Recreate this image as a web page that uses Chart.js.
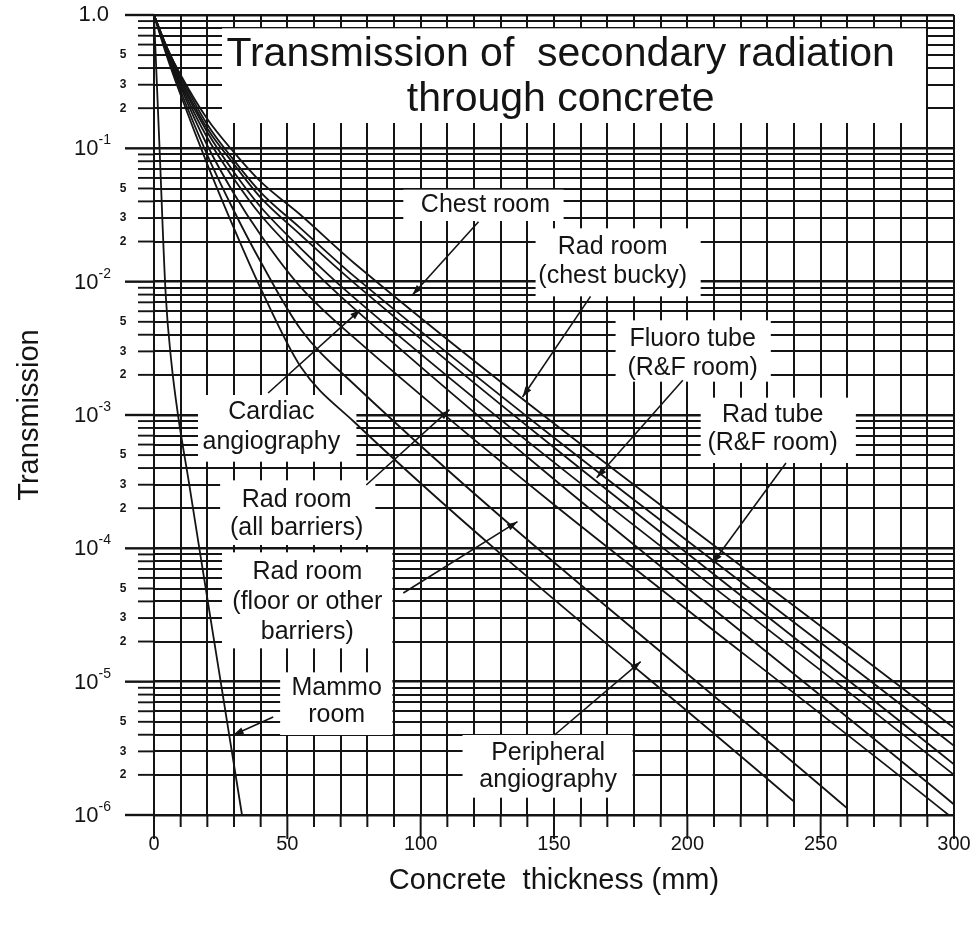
<!DOCTYPE html>
<html>
<head>
<meta charset="utf-8">
<script src="https://cdn.jsdelivr.net/npm/chart.js@4.4.0/dist/chart.umd.min.js"></script>
<style>
  html, body { margin: 0; padding: 0; background: #fff; }
  #wrap { width: 980px; height: 925px; position: relative; }
</style>
</head>
<body>
<div id="wrap"><canvas id="chart"></canvas></div>
<script>
// concrete thickness (mm) and transmission
var chestRoomX  = [0, 5, 10, 20, 30, 40, 55, 75, 300];
var chestRoomT  = [1, 0.562, 0.355, 0.166, 0.0933, 0.0562, 0.0316, 0.0138, 4.5e-6];
var chestBuckyX = [0, 5, 10, 20, 30, 40, 55, 75, 300];
var chestBuckyT = [1, 0.562, 0.347, 0.151, 0.0813, 0.0468, 0.0251, 0.011, 3.3e-6];
var radTubeX    = [0, 5, 10, 20, 30, 40, 55, 75, 300];
var radTubeT    = [1, 0.55, 0.331, 0.141, 0.0759, 0.0427, 0.0224, 0.0098, 2.4e-6];
var fluoroX     = [0, 5, 10, 20, 30, 40, 55, 75, 300];
var fluoroT     = [1, 0.537, 0.316, 0.132, 0.0661, 0.0363, 0.0178, 0.0076, 2.0e-6];
var cardiacX    = [0, 5, 10, 20, 30, 40, 55, 75, 300];
var cardiacT    = [1, 0.525, 0.302, 0.12, 0.0589, 0.0316, 0.0151, 0.0063, 1.2e-6];
var radAllX     = [0, 5, 10, 20, 30, 40, 55, 75, 298];
var radAllT     = [1, 0.513, 0.288, 0.105, 0.0457, 0.0224, 0.0091, 0.0038, 1.0e-6];
var radFloorX   = [0, 5, 10, 20, 30, 40, 55, 75, 260];
var radFloorT   = [1, 0.501, 0.269, 0.0891, 0.0339, 0.0141, 0.0044, 0.0017, 1.12e-6];
var periphX     = [0, 5, 10, 20, 30, 40, 55, 75, 240];
var periphT     = [1, 0.479, 0.251, 0.0759, 0.0251, 0.0089, 0.0023, 0.00089, 1.26e-6];
var mammoX      = [0, 2, 4.4, 6.5, 9, 13, 17, 25, 33];
var mammoT      = [1, 0.11, 0.0079, 0.0025, 1e-3, 3.2e-4, 1e-4, 1e-5, 1e-6];

// axis ticks
var xTickLabels = [0, 50, 100, 150, 200, 250, 300];
var decadeValues = [1, 1e-1, 1e-2, 1e-3, 1e-4, 1e-5, 1e-6];
var decadeExp = ['', '-1', '-2', '-3', '-4', '-5', '-6'];
var minorSteps = [2, 3, 4, 5, 6, 7, 8, 9];
var minorLabelled = [5, 3, 2];

var series = [
  { name: 'Chest room', x: chestRoomX, t: chestRoomT },
  { name: 'Rad room (chest bucky)', x: chestBuckyX, t: chestBuckyT },
  { name: 'Rad tube (R&F room)', x: radTubeX, t: radTubeT },
  { name: 'Fluoro tube (R&F room)', x: fluoroX, t: fluoroT },
  { name: 'Cardiac angiography', x: cardiacX, t: cardiacT },
  { name: 'Rad room (all barriers)', x: radAllX, t: radAllT },
  { name: 'Rad room (floor or other barriers)', x: radFloorX, t: radFloorT },
  { name: 'Peripheral angiography', x: periphX, t: periphT },
  { name: 'Mammo room', x: mammoX, t: mammoT }
];

// annotations: positions in mm and decades below 1.0
var labelBoxes = [
  [25.5, 0.10, 289.5, 0.81],
  [93.5, 1.31, 153.6, 1.545],
  [143.1, 1.60, 205.0, 2.11],
  [173.1, 2.29, 231.3, 2.75],
  [205.0, 2.87, 263.2, 3.36],
  [16.5, 2.85, 75.9, 3.35],
  [24.8, 3.49, 83.0, 3.975],
  [25.5, 4.03, 89.4, 4.75],
  [47.3, 4.93, 89.4, 5.40],
  [115.7, 5.40, 179.5, 5.87]
];
var labelTexts = [
  { lines: ['Chest room'], x: 124.3, d: [1.425] },
  { lines: ['Rad room', '(chest bucky)'], x: 172, d: [1.74, 1.96] },
  { lines: ['Fluoro tube', '(R&F room)'], x: 202, d: [2.43, 2.65] },
  { lines: ['Rad tube', '(R&F room)'], x: 232, d: [3.0, 3.21] },
  { lines: ['Cardiac', 'angiography'], x: 44, d: [2.98, 3.2] },
  { lines: ['Rad room', '(all barriers)'], x: 53.5, d: [3.64, 3.85] },
  { lines: ['Rad room', '(floor or other', 'barriers)'], x: 57.5, d: [4.18, 4.40, 4.63] },
  { lines: ['Mammo', 'room'], x: 68.5, d: [5.05, 5.25] },
  { lines: ['Peripheral', 'angiography'], x: 147.8, d: [5.535, 5.74] }
];
// arrows: tail [mm, decades] -> tip [mm, decades]
var arrows = [
  [121.7, 1.55, 96.9, 2.10],
  [163.7, 2.11, 138.2, 2.865],
  [198.3, 2.74, 166.0, 3.47],
  [237.0, 3.36, 209.5, 4.11],
  [42.8, 2.835, 77.4, 2.21],
  [79.6, 3.525, 110.8, 2.96],
  [93.5, 4.335, 136.3, 3.80],
  [150.2, 5.40, 182.5, 4.85],
  [44.7, 5.265, 29.7, 5.40]
];

var FONT = '"Liberation Sans", Arial, Helvetica, sans-serif';
var INK = '#141414';

var overlay = {
  id: 'overlay',
  beforeDatasetsDraw: function(chart) {
    var ctx = chart.ctx, xs = chart.scales.x, ys = chart.scales.y, a = chart.chartArea;
    function px(mm) { return xs.getPixelForValue(mm); }
    function py(d) { return ys.getPixelForValue(Math.pow(10, -d)); }
    ctx.save();
    // white boxes behind the labels
    ctx.fillStyle = '#fff';
    labelBoxes.forEach(function(b) {
      ctx.fillRect(px(b[0]), py(b[1]), px(b[2]) - px(b[0]), py(b[3]) - py(b[1]));
    });
    ctx.strokeStyle = INK;
    // tick marks below the x axis
    ctx.lineWidth = 2;
    for (var mm = 0; mm <= 300; mm += 10) {
      var len = (mm % 50 === 0) ? 24 : 12;
      ctx.beginPath();
      ctx.moveTo(px(mm), a.bottom);
      ctx.lineTo(px(mm), a.bottom + len);
      ctx.stroke();
    }
    // tick marks left of the y axis, and labels
    ctx.fillStyle = INK;
    ctx.textBaseline = 'middle';
    decadeValues.forEach(function(v, i) {
      var y = ys.getPixelForValue(v);
      ctx.lineWidth = 2.4;
      ctx.beginPath(); ctx.moveTo(a.left - 29, y); ctx.lineTo(a.left, y); ctx.stroke();
      var right = 111;
      if (i === 0) {
        ctx.font = '22px ' + FONT;
        ctx.textAlign = 'right';
        ctx.fillText('1.0', right - 2, y);
      } else {
        ctx.font = '14px ' + FONT;
        var sw = ctx.measureText(decadeExp[i]).width;
        ctx.textAlign = 'left';
        ctx.fillText(decadeExp[i], right - sw, y - 8);
        ctx.font = '22px ' + FONT;
        ctx.textAlign = 'right';
        ctx.fillText('10', right - sw, y + 1);
      }
      if (i < decadeValues.length - 1) {
        minorSteps.forEach(function(m) {
          var yy = ys.getPixelForValue(v * m / 10);
          ctx.lineWidth = 1.9;
          ctx.beginPath(); ctx.moveTo(a.left - 16, yy); ctx.lineTo(a.left, yy); ctx.stroke();
          if (minorLabelled.indexOf(m) >= 0) {
            ctx.font = 'bold 12px ' + FONT;
            ctx.textAlign = 'center';
            ctx.fillText(String(m), a.left - 31, yy);
          }
        });
      }
    });
    ctx.restore();
  },
  afterDatasetsDraw: function(chart) {
    var ctx = chart.ctx, xs = chart.scales.x, ys = chart.scales.y, a = chart.chartArea;
    function px(mm) { return xs.getPixelForValue(mm); }
    function py(d) { return ys.getPixelForValue(Math.pow(10, -d)); }
    ctx.save();
    ctx.strokeStyle = INK;
    ctx.fillStyle = INK;
    ctx.lineWidth = 1.6;
    arrows.forEach(function(r) {
      var x0 = px(r[0]), y0 = py(r[1]), x1 = px(r[2]), y1 = py(r[3]);
      var ang = Math.atan2(y1 - y0, x1 - x0);
      ctx.beginPath(); ctx.moveTo(x0, y0); ctx.lineTo(x1, y1); ctx.stroke();
      ctx.beginPath();
      ctx.moveTo(x1, y1);
      ctx.lineTo(x1 - 11 * Math.cos(ang - 0.32), y1 - 11 * Math.sin(ang - 0.32));
      ctx.lineTo(x1 - 11 * Math.cos(ang + 0.32), y1 - 11 * Math.sin(ang + 0.32));
      ctx.closePath(); ctx.fill();
    });
    ctx.textAlign = 'center';
    ctx.textBaseline = 'middle';
    // title
    ctx.font = '41px ' + FONT;
    ctx.fillText('Transmission of  secondary radiation', px(152.5), py(0.30));
    ctx.fillText('through concrete', px(152.5), py(0.6375));
    ctx.font = '25px ' + FONT;
    labelTexts.forEach(function(l) {
      l.lines.forEach(function(s, k) { ctx.fillText(s, px(l.x), py(l.d[k])); });
    });
    // axis titles
    ctx.font = '29px ' + FONT;
    ctx.fillText('Concrete  thickness (mm)', (a.left + a.right) / 2, 881);
    ctx.translate(30, (a.top + a.bottom) / 2);
    ctx.rotate(-Math.PI / 2);
    ctx.fillText('Transmission', 0, 0);
    ctx.restore();
  }
};

var yTickValues = [];
decadeValues.forEach(function(v, i) {
  yTickValues.push(v);
  if (i < decadeValues.length - 1) minorSteps.forEach(function(m) { yTickValues.push(v * m / 10); });
});

var ctx = document.getElementById('chart');
var chart = new Chart(ctx, {
  type: 'line',
  data: {
    datasets: series.map(function(s) {
      return {
        label: s.name,
        data: s.x.map(function(x, i) { return { x: x, y: s.t[i] }; }),
        borderColor: INK,
        borderWidth: 1.8,
        pointRadius: 0,
        fill: false,
        cubicInterpolationMode: 'monotone'
      };
    })
  },
  options: {
    responsive: true,
    maintainAspectRatio: false,
    animation: false,
    devicePixelRatio: 1,
    layout: { padding: { top: 15, right: 26, left: 0, bottom: 0 } },
    plugins: { legend: { display: false }, tooltip: { enabled: false } },
    scales: {
      x: {
        type: 'linear', min: 0, max: 300,
        afterFit: function(scale) {
          scale.height = 110;
          scale.paddingLeft = 0;
          scale.paddingRight = 0;
        },
        border: { display: false },
        grid: { color: INK, lineWidth: 2, drawTicks: false },
        ticks: {
          stepSize: 10, autoSkip: false, maxRotation: 0, padding: 17,
          color: INK, font: { family: FONT, size: 20 },
          callback: function(v) { return xTickLabels.indexOf(v) >= 0 ? String(v) : ''; }
        }
      },
      y: {
        type: 'logarithmic', min: 1e-6, max: 1,
        afterFit: function(scale) { scale.width = 154; },
        afterBuildTicks: function(scale) {
          scale.ticks = yTickValues.map(function(v) { return { value: v }; });
        },
        border: { display: false },
        grid: {
          color: INK, drawTicks: false,
          lineWidth: function(c) { return decadeValues.indexOf(c.tick && c.tick.value) >= 0 ? 2.6 : 1.9; }
        },
        ticks: { display: false }
      }
    }
  },
  plugins: [overlay]
});
</script>
</body>
</html>
